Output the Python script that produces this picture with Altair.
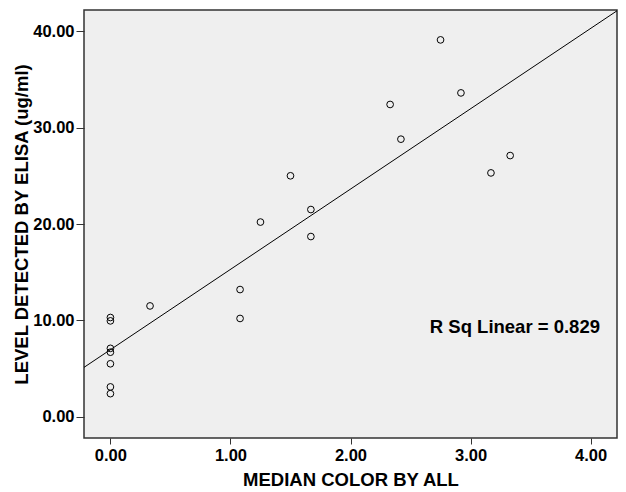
import altair as alt
import pandas as pd

median_color = [0.0, 0.0, 0.0, 0.0, 0.0, 0.0, 0.0, 0.33, 1.08, 1.08,
                1.25, 1.50, 1.67, 1.67, 2.33, 2.42, 2.75, 2.92, 3.17, 3.33]
elisa_level = [10.3, 9.95, 7.1, 6.7, 5.5, 3.1, 2.4, 11.5, 13.2, 10.2,
               20.2, 25.0, 21.5, 18.7, 32.4, 28.8, 39.1, 33.6, 25.3, 27.1]
x_ticks = [0, 1, 2, 3, 4]
y_ticks = [0, 10, 20, 30, 40]
r2_label = "R Sq Linear = 0.829"

df = pd.DataFrame({"x": median_color, "y": elisa_level})

FONT = "Liberation Sans"
xdom = [-0.22, 4.22]
ydom = [-2.2, 42.2]

xenc = alt.X("x:Q", scale=alt.Scale(domain=xdom, nice=False, zero=False),
             axis=alt.Axis(values=x_ticks, format=".2f", title="MEDIAN COLOR BY ALL",
                           grid=False, domain=False, tickSize=6, tickColor="#333333",
                           labelFont=FONT, labelFontSize=16.5, labelFontWeight="bold",
                           labelColor="black", labelPadding=3,
                           titleFont=FONT, titleFontSize=18.5, titleFontWeight="bold",
                           titleColor="black", titlePadding=7))
yenc = alt.Y("y:Q", scale=alt.Scale(domain=ydom, nice=False, zero=False),
             axis=alt.Axis(values=y_ticks, format=".2f", title="LEVEL DETECTED BY ELISA (ug/ml)",
                           grid=False, domain=False, tickSize=8, tickColor="#333333",
                           labelFont=FONT, labelFontSize=16.5, labelFontWeight="bold",
                           labelColor="black", labelPadding=2,
                           titleFont=FONT, titleFontSize=18.5, titleFontWeight="bold",
                           titleColor="black", titlePadding=1))

points = alt.Chart(df).mark_point(shape="circle", filled=False, color="black",
                                  size=45, strokeWidth=1, opacity=1).encode(x=xenc, y=yenc)

fit = alt.Chart(df).transform_regression("x", "y", extent=xdom).mark_line(
    color="black", strokeWidth=1, clip=True).encode(x="x:Q", y="y:Q")

label = alt.Chart(pd.DataFrame({"t": [r2_label]})).mark_text(
    font=FONT, fontSize=18.5, fontWeight="bold", align="right", baseline="middle",
    color="black").encode(text="t:N", x=alt.value(516), y=alt.value(317))

chart = alt.layer(points, fit, label).properties(
    width=533, height=428,
    autosize=alt.AutoSizeParams(type="none"),
    padding={"left": 84, "top": 10, "right": 9, "bottom": 54},
    background="white",
).configure_view(fill="#efefef", stroke="#333333", strokeWidth=1.5)

chart.save("out.html", embed_options={"renderer": "svg", "actions": False})
